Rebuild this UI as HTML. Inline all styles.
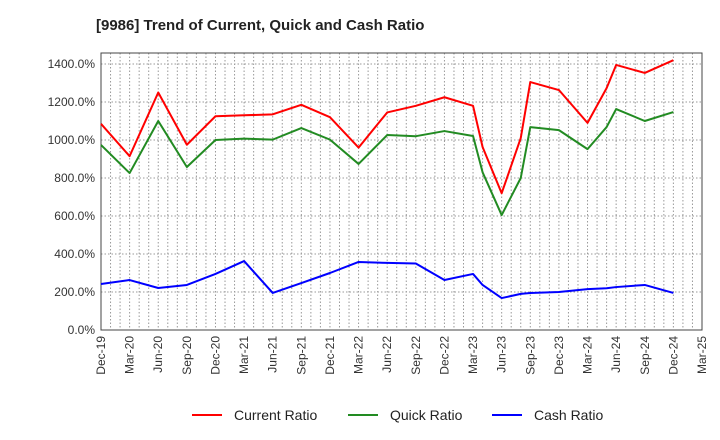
<!DOCTYPE html>
<html><head><meta charset="utf-8"><style>
body{margin:0;background:#fff;}
svg{display:block;font-family:"Liberation Sans",Arial,sans-serif;}
</style></head><body>
<svg id="c" width="720" height="440">
<text x="96" y="30" font-size="15" font-weight="bold" fill="#222">[9986]  Trend of Current, Quick and Cash Ratio</text>
</svg>
<script>
const months=[0,3,6,9,12,15,18,21,24,27,30,33,36,39,40,42,44,45,48,51,53,54,57,60];
const currentRatio=[1085,915,1250,975,1125,1130,1135,1185,1120,960,1145,1180,1225,1180,963,720,1010,1305,1263,1090,1273,1395,1353,1420];
const quickRatio=[974,826,1100,858,1000,1007,1002,1063,1002,874,1026,1020,1047,1021,830,605,800,1068,1052,952,1068,1163,1100,1147];
const cashRatio=[242,263,221,237,295,363,195,247,300,358,353,350,263,295,237,168,190,195,200,215,220,226,237,195];
const yTicks=[0,200,400,600,800,1000,1200,1400];
const xTickLabels=["Dec-19","Mar-20","Jun-20","Sep-20","Dec-20","Mar-21","Jun-21","Sep-21","Dec-21","Mar-22","Jun-22","Sep-22","Dec-22","Mar-23","Jun-23","Sep-23","Dec-23","Mar-24","Jun-24","Sep-24","Dec-24","Mar-25"];
const L=101,R=702,T=53,B=330;
const xs=m=>L+(R-L)*m/63;
const ys=v=>B-(B-64)*v/1400;
const svg=document.getElementById('c');
const NS='http://www.w3.org/2000/svg';
function mk(t,a){const e=document.createElementNS(NS,t);for(const k in a)e.setAttribute(k,a[k]);svg.appendChild(e);return e;}
for(let m=1;m<63;m++){const g=mk('line',{x1:xs(m),x2:xs(m),y1:T,y2:B,stroke:'#999','stroke-dasharray':'1.5,2','stroke-width':1});

}
yTicks.forEach(v=>{if(v>0){const g=mk('line',{x1:L,x2:R,y1:ys(v),y2:ys(v),stroke:'#999','stroke-dasharray':'1.5,2','stroke-width':1});

}
const t=mk('text',{x:L-6,y:ys(v)+4,'text-anchor':'end','font-size':12,fill:'#333'});t.textContent=v.toFixed(1)+'%';

});
xTickLabels.forEach((s,i)=>{const x=xs(i*3);const t=mk('text',{transform:`translate(${x+4},${B+6}) rotate(-90)`,'text-anchor':'end','font-size':12,fill:'#333'});t.textContent=s;

});
const fr=mk('rect',{x:L,y:T,width:R-L,height:B-T,fill:'none',stroke:'#444','stroke-width':1});


function series(vals,color,name){const p=mk('polyline',{points:vals.map((v,i)=>xs(months[i])+','+ys(v)).join(' '),fill:'none',stroke:color,'stroke-width':2,'stroke-linejoin':'round'});

}
series(currentRatio,'#f00','current-ratio-line');
series(quickRatio,'#228b22','quick-ratio-line');
series(cashRatio,'#00f','cash-ratio-line');
[['Current Ratio','#f00',192],['Quick Ratio','#228b22',348],['Cash Ratio','#00f',492]].forEach(([n,c,x])=>{
const l=mk('line',{x1:x,x2:x+30,y1:415,y2:415,stroke:c,'stroke-width':2});


const t=mk('text',{x:x+42,y:420,'font-size':14,fill:'#222'});t.textContent=n;

});
</script>
</body></html>
